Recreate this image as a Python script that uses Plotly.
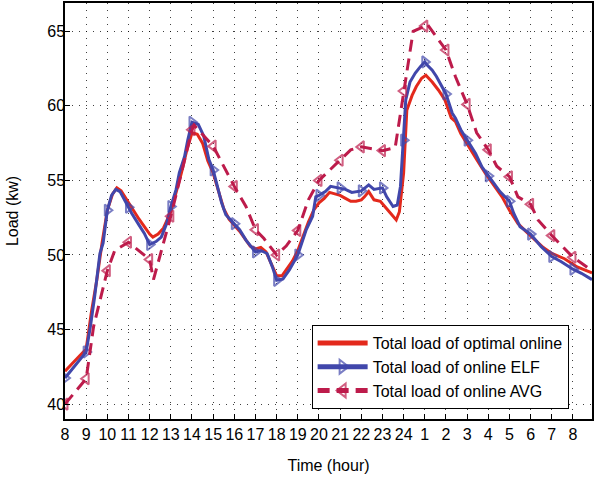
import plotly.graph_objects as go

# Hour axis: 0 = 8 o'clock, running through midnight to 8 o'clock next day
hour_ticks = list(range(0, 25))
hour_labels = [str(h) for h in list(range(8, 25)) + list(range(1, 9))]
load_ticks = [40, 45, 50, 55, 60, 65]

# Total load of optimal online
opt_hours = [0, 1, 1.25, 1.5, 1.75, 2, 2.25, 2.45, 2.65, 3, 3.25, 3.5, 3.75, 4, 4.15,
             4.4, 4.65, 5, 5.25, 5.5, 5.75, 6, 6.25, 6.5, 6.75, 7, 7.25, 7.5, 7.75, 8,
             8.25, 8.5, 8.75, 9, 9.25, 9.5, 9.75, 10, 10.25, 10.5, 10.75, 11, 11.25,
             11.5, 11.75, 12, 12.25, 12.5, 12.75, 13, 13.25, 13.5, 13.75, 14, 14.15,
             14.35, 14.6, 14.9, 15.2, 15.45, 15.65, 15.8, 16, 16.15, 16.4, 16.6, 16.85,
             17.05, 17.35, 17.65, 17.95, 18.25, 18.45, 18.7, 19.05, 19.45, 19.85, 20.25,
             20.65, 21, 21.4, 21.8, 22.2, 22.6, 23, 23.6, 24.2, 24.9]
opt_load = [42.2, 43.7, 46.2, 48.3, 50.8, 53.0, 54.1, 54.5, 54.3, 53.5, 53.0, 52.4, 51.9,
            51.4, 51.2, 51.4, 51.8, 52.9, 54.2, 55.5, 57.0, 58.2, 58.1, 57.5, 56.3, 55.5,
            54.3, 53.1, 52.4, 52.0, 51.6, 51.1, 50.6, 50.4, 50.5, 50.2, 49.4, 48.6, 48.6,
            49.1, 49.6, 50.3, 51.3, 52.2, 53.0, 53.5, 53.8, 54.2, 54.1, 54.0, 53.8, 53.6,
            53.6, 53.7, 53.9, 54.25, 53.7, 53.6, 53.1, 52.7, 52.35, 52.9, 55.5, 59.7,
            60.7, 61.3, 61.85, 62.05, 61.6, 61.05, 60.4, 59.2, 58.95, 58.15, 57.3, 56.4,
            55.5, 54.7, 53.9, 53.0, 52.1, 51.55, 51.0, 50.5, 50.1, 49.75, 49.2, 48.8]

# Total load of online ELF
elf_hours = [0, 1, 1.2, 1.4, 1.65, 1.8, 2, 2.2, 2.4, 2.6, 3, 3.15, 3.5, 3.75, 4, 4.3,
             4.55, 4.8, 5, 5.25, 5.4, 5.65, 5.8, 6, 6.3, 6.55, 6.8, 7, 7.2, 7.4, 7.6, 8,
             8.25, 8.55, 9, 9.25, 9.55, 9.8, 10, 10.3, 10.6, 11, 11.4, 11.7, 11.85, 12,
             12.3, 12.55, 13, 13.25, 13.55, 14, 14.35, 14.6, 15, 15.2, 15.5, 15.7, 15.85,
             16, 16.1, 16.3, 16.55, 16.8, 17, 17.1, 17.35, 17.55, 17.8, 18, 18.3, 18.45,
             18.7, 19, 19.4, 19.7, 20, 20.25, 20.55, 21, 21.2, 21.5, 22, 22.5, 23, 23.45,
             24, 24.4, 24.9]
elf_load = [41.75, 43.5, 45.2, 47.2, 50.1, 50.8, 53.0, 54.0, 54.4, 54.25, 53.2, 52.8,
            52.0, 51.45, 50.7, 50.9, 51.2, 52.1, 53.25, 54.4, 55.5, 56.6, 57.7, 58.9,
            58.75, 58.0, 56.4, 55.7, 54.6, 53.5, 52.7, 52.1, 51.7, 51.0, 50.2, 50.3,
            50.1, 49.2, 48.3, 48.4, 49.0, 50.0, 51.7, 52.6, 53.9, 54.0, 54.25, 54.6,
            54.5, 54.4, 54.2, 54.3, 54.7, 54.4, 54.5, 53.9, 53.25, 53.35, 54.6, 57.7,
            60.4, 61.6, 62.2, 62.65, 62.95, 62.75, 62.4, 61.97, 61.3, 60.8, 59.5, 59.17,
            58.4, 57.7, 56.8, 55.9, 55.3, 54.8, 54.25, 53.6, 52.8, 51.9, 51.4, 50.56,
            49.9, 49.55, 49.05, 48.77, 48.35]

# Total load of online AVG
avg_hours = [0, 1, 1.35, 2, 2.35, 3, 4, 4.18, 5, 5.5, 6, 6.1, 7, 8, 8.55, 9, 9.4, 10,
             10.45, 11, 11.5, 12, 13, 13.5, 14, 15, 15.6, 15.8, 16, 16.45, 17, 17.1, 18,
             18.45, 19, 19.45, 20, 20.4, 21, 21.4, 22, 22.35, 23, 24, 24.9]
avg_load = [40.0, 41.7, 45.2, 48.95, 50.3, 50.85, 49.7, 48.35, 52.6, 55.5, 58.4, 58.7,
            57.3, 54.6, 53.25, 51.7, 51.1, 50.0, 50.6, 51.65, 53.7, 55.0, 56.35, 57.05,
            57.25, 57.0, 57.2, 59.0, 61.0, 65.0, 65.35, 65.5, 63.75, 61.95, 60.1, 58.2,
            57.05, 55.95, 55.25, 53.9, 53.4, 52.35, 51.3, 49.85, 48.95]


def hourly_marker(hours, size):
    """Marker sizes and outline widths that show a symbol on whole hours only."""
    sizes = [size if float(h).is_integer() else 0 for h in hours]
    widths = [2 if float(h).is_integer() else 0 for h in hours]
    return sizes, widths


elf_size, elf_lw = hourly_marker(elf_hours, 10)
avg_size, avg_lw = hourly_marker(avg_hours, 10)

RED = "#e3291c"
BLUE = "#4147ab"
CRIMSON = "#bd1b4b"
FONT = "Liberation Sans, Arial, sans-serif"

fig = go.Figure()
fig.add_trace(go.Scatter(
    x=opt_hours, y=opt_load, mode="lines", name="Total load of optimal online",
    line=dict(color=RED, width=3),
))
fig.add_trace(go.Scatter(
    x=elf_hours, y=elf_load, mode="lines+markers", name="Total load of online ELF",
    line=dict(color=BLUE, width=3),
    marker=dict(symbol="triangle-right-open", size=elf_size, color=BLUE,
                line=dict(color=BLUE, width=elf_lw)),
))
fig.add_trace(go.Scatter(
    x=avg_hours, y=avg_load, mode="lines+markers", name="Total load of online AVG",
    line=dict(color=CRIMSON, width=3, dash="12px,7px"),
    marker=dict(symbol="triangle-left-open", size=avg_size, color=CRIMSON,
                line=dict(color=CRIMSON, width=avg_lw)),
))

axis_common = dict(
    showline=True, linecolor="black", linewidth=1.5, mirror=True,
    ticks="inside", ticklen=5, tickwidth=1, tickcolor="black",
    showgrid=True, gridcolor="rgba(0,0,0,0.75)", gridwidth=1, griddash="1px,6px",
    zeroline=False, tickfont=dict(family=FONT, size=16, color="black"),
)

fig.update_xaxes(
    range=[0, 24.9], tickmode="array", tickvals=hour_ticks, ticktext=hour_labels,
    title=dict(text="Time (hour)", font=dict(family=FONT, size=16, color="black"),
               standoff=18),
    **axis_common,
)
fig.update_yaxes(
    range=[39, 66.9], tickmode="array", tickvals=load_ticks, ticklabelstandoff=-5,
    title=dict(text="Load (kw)", font=dict(family=FONT, size=16, color="black"),
               standoff=25),
    **axis_common,
)

fig.update_layout(
    width=594, height=479,
    margin=dict(l=65, r=0, t=3, b=60),
    paper_bgcolor="white", plot_bgcolor="white",
    font=dict(family=FONT, size=16, color="black"),
    legend=dict(
        x=0.468, y=0.226, xanchor="left", yanchor="top",
        bgcolor="white", bordercolor="black", borderwidth=1,
        font=dict(family=FONT, size=16, color="black"),
        itemsizing="constant", itemwidth=50, tracegroupgap=0,
    ),
    showlegend=True,
)

fig.write_html("out.html")
